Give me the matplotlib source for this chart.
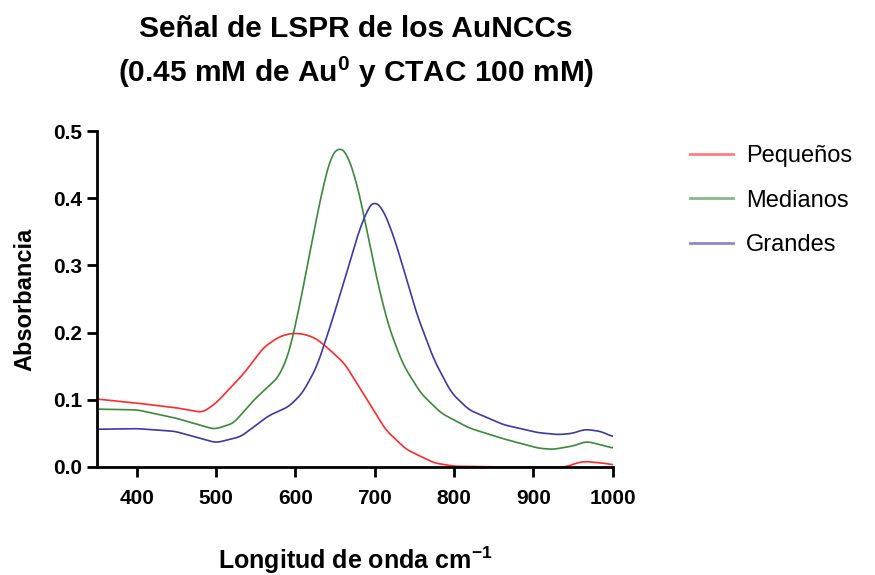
import matplotlib.pyplot as plt
import numpy as np

plt.rcParams['font.family'] = ['Liberation Sans', 'DejaVu Sans']
plt.rcParams['mathtext.fontset'] = 'custom'
plt.rcParams['mathtext.rm'] = 'Liberation Sans:bold'
plt.rcParams['mathtext.default'] = 'rm'

# Pequeños (red)
wl_small = [350, 400, 450, 483, 500, 535, 560, 580, 595, 610, 625, 640, 662, 688, 714,
            740, 775, 800, 850, 900, 941, 958, 967, 993, 1000]
abs_small = [0.101, 0.095, 0.088, 0.081, 0.095, 0.139, 0.178, 0.194, 0.199, 0.198,
             0.192, 0.178, 0.154, 0.105, 0.055, 0.026, 0.006, 0.001, 0.0, 0.0, 0.0,
             0.007, 0.008, 0.005, 0.003]

# Medianos (green)
wl_med = [350, 400, 448, 498, 522, 548, 579, 592, 605, 618, 631, 644, 655, 666, 679,
          692, 705, 718, 736, 758, 784, 819, 862, 906, 924, 950, 967, 985, 1000]
abs_med = [0.086, 0.085, 0.073, 0.056, 0.065, 0.100, 0.134, 0.169, 0.238, 0.317,
           0.396, 0.460, 0.477, 0.465, 0.416, 0.342, 0.268, 0.208, 0.152, 0.110,
           0.080, 0.058, 0.042, 0.028, 0.026, 0.031, 0.038, 0.033, 0.028]

# Grandes (blue)
wl_big = [350, 400, 448, 500, 531, 566, 592, 609, 627, 644, 662, 679, 692, 699, 710,
          723, 736, 753, 775, 797, 819, 862, 906, 932, 950, 965, 985, 1000]
abs_big = [0.056, 0.057, 0.053, 0.036, 0.045, 0.076, 0.090, 0.110, 0.149, 0.209,
           0.278, 0.347, 0.386, 0.396, 0.385, 0.347, 0.297, 0.228, 0.159, 0.110,
           0.085, 0.063, 0.051, 0.048, 0.050, 0.056, 0.053, 0.045]

series = [
    ("Pequeños", wl_small, abs_small, "#ff2a2a"),
    ("Medianos", wl_med, abs_med, "#3a8a3a"),
    ("Grandes", wl_big, abs_big, "#3a3aa8"),
]

fig = plt.figure(figsize=(8.75, 5.75), dpi=100)
ax = fig.add_axes([0.111, 0.188, 0.589, 0.584])

for name, x, y, color in series:
    # dense resampling of the read points, lightly smoothed
    xs = np.linspace(x[0], x[-1], 650)
    ys = np.interp(xs, x, y)
    k = np.ones(13) / 13
    ys = np.convolve(np.pad(ys, 6, mode='edge'), k, mode='valid')
    ax.plot(xs, ys, color=color, lw=1.2, label=name)

ax.set_xlim(350, 1000)
ax.set_ylim(0, 0.5)
ax.set_xticks([400, 500, 600, 700, 800, 900, 1000])
ax.set_yticks([0.0, 0.1, 0.2, 0.3, 0.4, 0.5])
ax.set_yticklabels(["0.0", "0.1", "0.2", "0.3", "0.4", "0.5"])

for side in ["top", "right"]:
    ax.spines[side].set_visible(False)
for side in ["left", "bottom"]:
    ax.spines[side].set_linewidth(2)
ax.tick_params(direction='out', length=7, width=2, labelsize=15, pad=4)
ax.tick_params(axis='x', pad=9)
for lbl in ax.get_xticklabels() + ax.get_yticklabels():
    lbl.set_fontweight('bold')

ax.set_xlabel("Longitud de onda cm$^{-1}$", fontsize=18, fontweight='bold', labelpad=26)
ax.set_ylabel("Absorbancia", fontsize=17, fontweight='bold', labelpad=12)

fig.text(0.407, 0.909, "Señal de LSPR de los AuNCCs\n(0.45 mM de Au$^{0}$ y CTAC 100 mM)",
         ha='center', va='center', fontsize=21.5, fontweight='bold', linespacing=1.45)

leg = ax.legend(loc='upper left', bbox_to_anchor=(0.789, 0.747), bbox_transform=fig.transFigure,
                frameon=False, borderpad=0, borderaxespad=0, fontsize=17,
                handlelength=1.8, labelspacing=0.94, handletextpad=0.55)
for h in leg.get_lines():
    h.set_linewidth(2)
    h.set_alpha(0.6)

fig.savefig("out.png", dpi=100)
